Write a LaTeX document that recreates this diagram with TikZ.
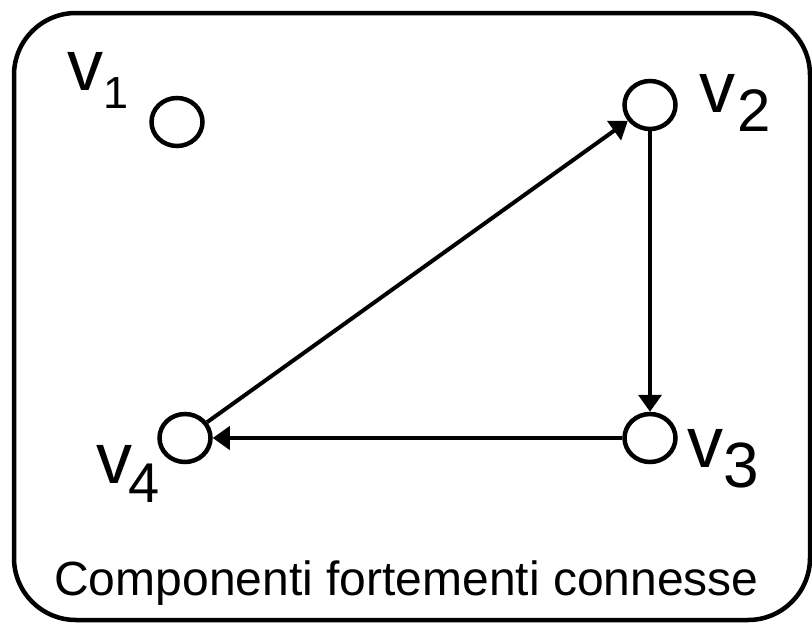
\documentclass[tikz,border=0pt]{standalone}
\usepackage{fontspec}
\setmainfont{Liberation Sans}
\usetikzlibrary{shapes.geometric,arrows.meta}
\begin{document}
\begin{tikzpicture}[x=1pt,y=-1pt,
  vert/.style={draw,ellipse,line width=4.5pt,minimum width=51pt,minimum height=48pt,inner sep=0pt},
  edge/.style={line width=4pt,-{Triangle[length=17pt,width=23pt]}},
  lbl/.style={anchor=base west,inner sep=0pt,font=\fontsize{72}{72}\selectfont}
]
\useasboundingbox (0,0) rectangle (812,624);
\draw[line width=4.5pt,rounded corners=62pt] (14,13) rectangle (810,620);
\node[vert] (v1) at (177,122) {};
\node[vert] (v2) at (650,105) {};
\node[vert] (v3) at (650,438) {};
\node[vert] (v4) at (185,438) {};
\node[lbl] (l1) at (67,90) {v\raisebox{-18pt}{\fontsize{45}{45}\selectfont 1}};
\node[lbl] (l2) at (699,112) {v\kern2pt\raisebox{-19pt}{\fontsize{60}{60}\selectfont 2}};
\node[lbl] (l3) at (687,467) {v\raisebox{-20pt}{\fontsize{64}{64}\selectfont 3}};
\node[lbl] (l4) at (96,483) {v\kern-4pt\raisebox{-19pt}{\fontsize{56}{56}\selectfont 4}};
\draw[edge] (v2) -- (v3);
\draw[edge] (v3) -- (v4);
\draw[edge] (v4) -- (v2);
\node[anchor=base,inner sep=0pt,font=\fontsize{48}{48}\selectfont] (cap) at (406.5,595) {Componenti fortementi connesse};
\end{tikzpicture}
\end{document}
